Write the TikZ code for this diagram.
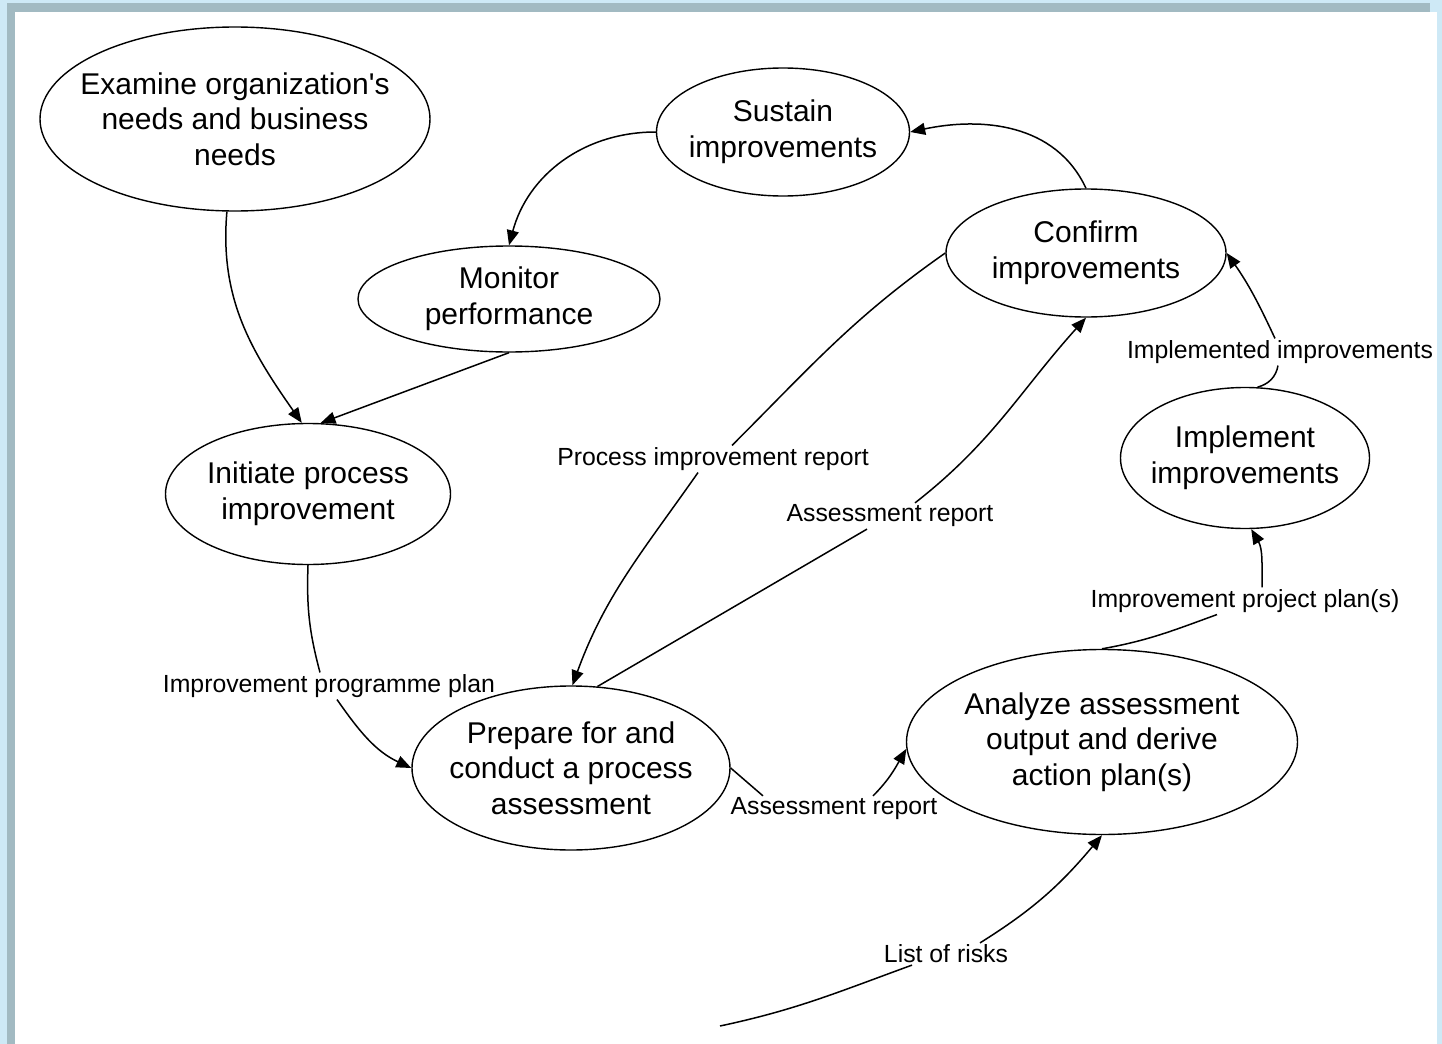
\documentclass[tikz,border=0pt]{standalone}
\usepackage{fontspec}
\setmainfont{Liberation Sans}
\usetikzlibrary{shapes.geometric, arrows.meta}

\definecolor{pageblue}{RGB}{206,233,246}
\definecolor{frameblue}{RGB}{162,186,194}

\tikzset{
	stage/.style={ellipse, draw, line width=0.7pt, inner sep=-40pt, align=center,
		font=\fontsize{15}{17.8}\selectfont},
	flowlabel/.style={inner sep=0.8pt, font=\fontsize{12.4}{14}\selectfont},
	link/.style={line width=0.75pt},
	flow/.style={link, -{Triangle[length=7.5pt, width=6pt]}},
}

\begin{document}
\begin{tikzpicture}[x=0.5pt, y=-0.5pt]
	% page and frame
	\fill[pageblue] (0,0) rectangle (1442,1044);
	\fill[frameblue] (7,3) rectangle (1430,1044);
	\fill[white] (15,12) rectangle (1437,1044);

	\node[stage, minimum width=195pt, minimum height=92pt] (examine) at (235,119) {Examine organization\textquotesingle s\\needs and business\\needs};
	\node[stage, minimum width=126.5pt, minimum height=64pt] (sustain) at (783,132) {Sustain\\improvements};
	\node[stage, minimum width=151pt, minimum height=53pt] (monitor) at (509,299) {Monitor\\performance};
	\node[stage, minimum width=140pt, minimum height=64pt] (confirm) at (1086,253) {Confirm\\improvements};
	\node[stage, minimum width=142.5pt, minimum height=70.5pt] (initiate) at (308,494) {Initiate process\\improvement};
	\node[stage, minimum width=124.5pt, minimum height=70.5pt] (implement) at (1245,458) {Implement\\improvements};
	\node[stage, minimum width=159pt, minimum height=82pt] (prepare) at (571,768) {Prepare for and\\conduct a process\\assessment};
	\node[stage, minimum width=195.5pt, minimum height=92.5pt] (analyze) at (1102,742) {Analyze assessment\\output and derive\\action plan(s)};

	\node[flowlabel] (implemented) at (1280,352) {Implemented improvements};
	\node[flowlabel] (projplan) at (1245,601) {Improvement project plan(s)};
	\node[flowlabel] (report2) at (834,809) {Assessment report};
	\node[flowlabel] (report1) at (890,516) {Assessment report};
	\node[flowlabel] (pirep) at (713,459) {Process improvement report};
	\node[flowlabel] (progplan) at (329,686) {Improvement programme plan};
	\node[flowlabel] (risks) at (946,954) {List of risks};
	\coordinate (riskin) at (720,1026);

	\draw[flow] (examine) to[out=-95, in=125] (initiate.95);
	\draw[flow] (monitor.south) -- (initiate.80);
	\draw[flow] (sustain.west) to[out=180, in=75] (monitor.north);
	\draw[flow] (confirm.north) to[out=115, in=12] (sustain.east);

	\draw[link] (confirm.west) to[out=-145, in=45] ([xshift=9.5pt]pirep.north);
	\draw[flow] ([xshift=-7.5pt]pirep.south) to[out=-125, in=70] (prepare.89);

	\draw[link] (prepare.72) -- ([xshift=-11.5pt]report1.south);
	\draw[flow] ([xshift=12.5pt]report1.north) to[out=38, in=-132] (confirm.south);

	\draw[link] (initiate.south) to[out=-92, in=105] ([xshift=-4.5pt]progplan.north);
	\draw[flow] ([xshift=4pt]progplan.south) to[out=-55, in=155] (prepare.west);

	\draw[link] (prepare.east) -- ([xshift=-35.5pt]report2.north);
	\draw[flow] ([xshift=19.5pt]report2.north) to[out=45, in=-120] (analyze.182);

	\draw[link] (analyze.north) to[out=10, in=-160] ([xshift=-14pt]projplan.south);
	\draw[flow] ([xshift=8.5pt]projplan.north) to[out=90, in=-60] (implement.-85);

	\draw[link] (implement.80) to[out=15, in=-100] ([xshift=-1pt]implemented.south);
	\draw[flow] ([xshift=-2.5pt]implemented.north) to[out=115, in=-55] (confirm.east);

	\draw[link] (riskin) to[out=12, in=-160] ([xshift=-17pt]risks.south);
	\draw[flow] ([xshift=17pt]risks.north) to[out=32, in=-130] (analyze.south);
\end{tikzpicture}
\end{document}
